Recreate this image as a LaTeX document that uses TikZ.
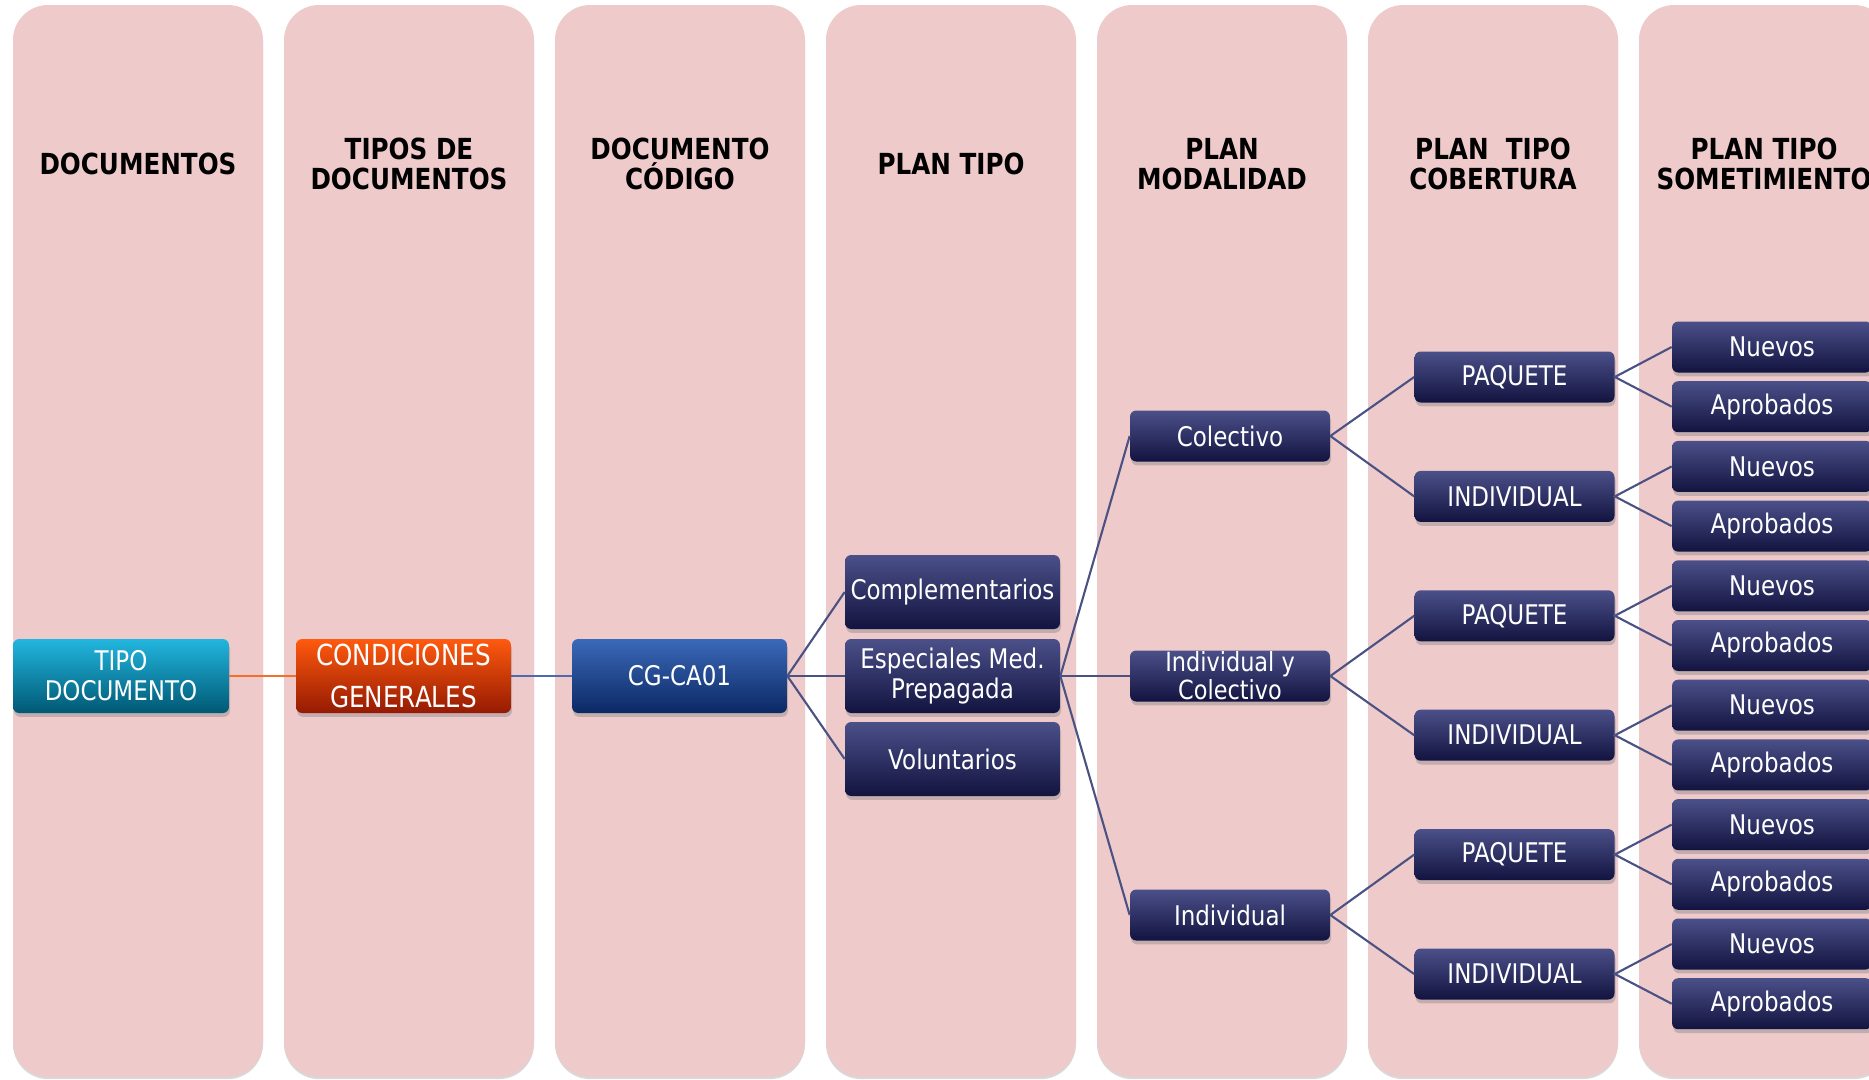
\documentclass[tikz,border=0pt]{standalone}
\usepackage{fontspec}
\setmainfont{DejaVu Sans}[FakeStretch=0.85]
\usetikzlibrary{shadows}

\definecolor{colfill}{HTML}{EFCACB}
\definecolor{navytop}{HTML}{4B5089}
\definecolor{navybot}{HTML}{12133F}
\definecolor{tealtop}{HTML}{22B6DF}
\definecolor{tealbot}{HTML}{005874}
\definecolor{orangetop}{HTML}{FF5A0E}
\definecolor{orangebot}{HTML}{951A02}
\definecolor{bluetop}{HTML}{3B69B9}
\definecolor{bluebot}{HTML}{0B2864}
\definecolor{linknavy}{HTML}{4A5283}
\definecolor{linkorange}{HTML}{F26F2C}
\definecolor{linkblue}{HTML}{4B6BAE}

\begin{document}
\begin{tikzpicture}
  [x=0.02cm,y=-0.02cm,
   column/.style={fill=colfill,rounded corners=20pt,
     drop shadow={opacity=0.3,shadow xshift=0pt,shadow yshift=-1.2pt}},
   header/.style={align=center,font=\bfseries\fontsize{16.5}{17}\selectfont},
   box/.style={rectangle,rounded corners=3.5pt,text=white,align=center,
     font=\fontsize{15.4}{17}\selectfont,inner sep=0pt,
     drop shadow={opacity=0.4,shadow xshift=0.6pt,shadow yshift=-2.2pt}},
   bigbox/.style={box,minimum width=4.3cm,minimum height=1.48cm},
   navybox/.style={bigbox,top color=navytop,bottom color=navybot},
   smallbox/.style={box,minimum width=4cm,minimum height=1.02cm,
     top color=navytop,bottom color=navybot},
   link/.style={draw=linknavy,line width=1.2pt}]

  \path[use as bounding box,clip] (0,0) rectangle (1869,1079);

  \foreach \i/\txt in {1/DOCUMENTOS, 2/{TIPOS DE\\DOCUMENTOS}, 3/{DOCUMENTO\\CÓDIGO},
      4/PLAN TIPO, 5/{PLAN\\MODALIDAD}, 6/{PLAN~ TIPO\\COBERTURA}, 7/{PLAN TIPO\\SOMETIMIENTO}}
  {
    \fill[column] ({13+271*(\i-1)},5) rectangle ++(250,1072);
    \node[header] (h\i) at ({138+271*(\i-1)},164) {\txt};
  }

  \node[bigbox,top color=tealtop,bottom color=tealbot,minimum width=4.32cm] (tipo) at (121,676) {TIPO\\DOCUMENTO};
  \node[bigbox,top color=orangetop,bottom color=orangebot,font=\fontsize{16.5}{23.5}\selectfont] (cond) at (403.5,676) {CONDICIONES\\GENERALES};
  \node[bigbox,top color=bluetop,bottom color=bluebot] (cg) at (679.5,676) {CG-CA01};

  \node[navybox] (pt1) at (952.5,592) {Complementarios};
  \node[navybox] (pt2) at (952.5,676) {Especiales Med.\\Prepagada};
  \node[navybox] (pt3) at (952.5,759) {Voluntarios};

  \node[smallbox] (m1) at (1230,436) {Colectivo};
  \node[smallbox,font=\fontsize{15}{16}\selectfont] (m2) at (1230,676) {Individual y\\Colectivo};
  \node[smallbox] (m3) at (1230,915) {Individual};

  \foreach \i/\txt in {1/PAQUETE, 2/INDIVIDUAL, 3/PAQUETE, 4/INDIVIDUAL, 5/PAQUETE, 6/INDIVIDUAL}
  {
    \node[smallbox] (c\i) at (1514.5,{377+119.4*(\i-1)}) {\txt};
    \node[smallbox] (sn\i) at (1772,{347+119.4*(\i-1)}) {Nuevos};
    \node[smallbox] (sa\i) at (1772,{406.7+119.4*(\i-1)}) {Aprobados};
  }

  \draw[draw=linkorange,line width=1.2pt] (tipo) -- (cond);
  \draw[draw=linkblue,line width=1.2pt] (cond) -- (cg);

  \foreach \from/\to in {cg/pt1, cg/pt2, cg/pt3, pt2/m1, pt2/m2, pt2/m3,
      m1/c1, m1/c2, m2/c3, m2/c4, m3/c5, m3/c6}
    \draw[link] (\from.east) -- (\to.west);

  \foreach \i in {1,...,6}
    \draw[link] (sn\i.west) -- (c\i.east) -- (sa\i.west);
\end{tikzpicture}
\end{document}
